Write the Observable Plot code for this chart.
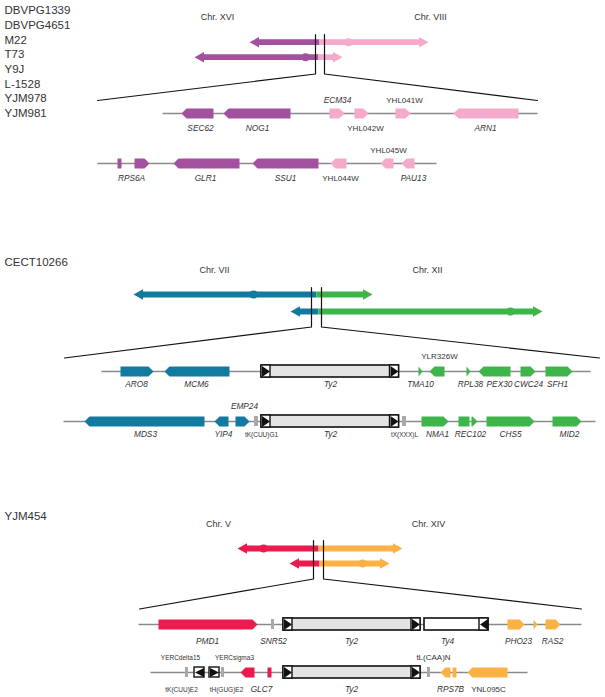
<!DOCTYPE html>
<html>
<head>
<meta charset="utf-8">
<script src="https://cdn.jsdelivr.net/npm/d3@7"></script>
<script src="https://cdn.jsdelivr.net/npm/@observablehq/plot@0.6"></script>
<style>
  html, body { margin: 0; padding: 0; background: #fff; }
  #chart svg { display: block; }
</style>
</head>
<body>
<div id="chart"></div>
<script>
// ---------------- DATA ----------------
const strainGroups = [
  ["DBVPG1339", "DBVPG4651", "M22", "T73", "Y9J", "L-1528", "YJM978", "YJM981"],
  ["CECT10266"],
  ["YJM454"]
];
const chromPairs = [
  {left: "Chr. XVI", right: "Chr. VIII", lx: 217, rx: 430},
  {left: "Chr. VII", right: "Chr. XII", lx: 214, rx: 427},
  {left: "Chr. V", right: "Chr. XIV", lx: 218, rx: 428}
];
const palettes = [
  ["#a3509f", "#f5a9cb"],
  ["#127a9e", "#3db54a"],
  ["#ec1a4f", "#fbb144"]
];
// overview translocation arrows: section, lane, left tip, junction, right tip, dot
const overview = [
  {section: 0, lane: 0, left: 249, junction: 319, right: 428, dot: 348},
  {section: 0, lane: 1, left: 194, junction: 318, right: 342, dot: 305},
  {section: 1, lane: 0, left: 133, junction: 316, right: 372, dot: 253},
  {section: 1, lane: 1, left: 290, junction: 318, right: 542, dot: 510},
  {section: 2, lane: 0, left: 237, junction: 318, right: 402, dot: 263},
  {section: 2, lane: 1, left: 289, junction: 319, right: 389, dot: 362}
];
// breakpoint markers and zoom window
const breakpoints = [
  {section: 0, a: 315, b: 324, from: 97, to: 537},
  {section: 1, a: 311, b: 321, from: 64, to: 599},
  {section: 2, a: 313, b: 323, from: 139, to: 581}
];
// chromosome backbones of the zoomed region
const tracks = [
  {section: 0, row: 0, from: 162, to: 537},
  {section: 0, row: 1, from: 97, to: 436},
  {section: 1, row: 0, from: 101, to: 590},
  {section: 1, row: 1, from: 63, to: 595},
  {section: 2, row: 0, from: 138, to: 581},
  {section: 2, row: 1, from: 150, to: 527}
];
// genes: [name, row, start, end, shape (L/R/N), chromosome side (0 left / 1 right)]
const genesA = [
  ["SEC62", 0, 181, 213, "L", 0], ["NOG1", 0, 223, 290, "L", 0],
  ["ECM34", 0, 329, 344, "R", 1], ["YHL042W", 0, 354, 368, "R", 1],
  ["YHL041W", 0, 395, 410, "R", 1], ["ARN1", 0, 453, 518, "L", 1],
  ["RPS6A-1", 1, 117, 121, "N", 0], ["RPS6A-2", 1, 134, 149, "R", 0],
  ["GLR1", 1, 173, 239, "L", 0], ["SSU1", 1, 252, 318, "L", 0],
  ["YHL044W", 1, 330, 346, "L", 1], ["YHL045W", 1, 380, 393, "L", 1],
  ["PAU13", 1, 401, 414, "L", 1]
];
const genesB = [
  ["ARO8", 0, 120, 153, "R", 0], ["MCM6", 0, 164, 229, "L", 0],
  ["TMA10", 0, 418, 422, "R", 1], ["YLR326W", 0, 429, 444, "L", 1],
  ["RPL38", 0, 466, 470, "R", 1], ["PEX30", 0, 478, 510, "L", 1],
  ["CWC24", 0, 520, 535, "R", 1], ["SFH1", 0, 545, 572, "R", 1],
  ["MDS3", 1, 84, 204, "L", 0], ["YIP4", 1, 214, 228, "L", 0],
  ["EMP24", 1, 235, 249, "R", 0], ["NMA1", 1, 421, 448, "R", 1],
  ["REC102", 1, 458, 469, "N", 1], ["REC102b", 1, 471, 477, "R", 1],
  ["CHS5", 1, 486, 534, "R", 1], ["MID2", 1, 552, 581, "R", 1]
];
const genesC = [
  ["PMD1", 0, 158, 257, "R", 0], ["PHO23", 0, 507, 524, "R", 1],
  ["orf", 0, 533, 537, "R", 1], ["RAS2", 0, 545, 560, "R", 1],
  ["GLC7", 1, 240, 254, "L", 0], ["GLC7b", 1, 267, 271, "N", 0],
  ["RPS7B", 1, 440, 450, "L", 1], ["RPS7Bb", 1, 452, 456, "N", 1],
  ["YNL095C", 1, 467, 507, "L", 1]
];
// tRNA / snoRNA ticks: [section, row, start, end]
const smallRNAs = [
  [1, 1, 254, 258], [1, 1, 402, 406],
  [2, 0, 271, 274], [2, 1, 185, 188], [2, 1, 221, 224], [2, 1, 427, 430]
];
// transposons: [section, row, start, end, type]
const transposons = [
  [1, 0, 261, 398.5, "Ty2"], [1, 1, 261, 398.5, "Ty2"],
  [2, 0, 283, 420, "Ty2"], [2, 0, 424, 488, "Ty4"], [2, 1, 283, 420, "Ty2"]
];
// solo LTRs: [section, row, start, end, direction]
const soloLTRs = [[2, 1, 194, 204, "L"], [2, 1, 209, 219, "R"]];
// labels: [section, row, text, x, position (b below / a above), style (i italic / n normal / s small)]
const labels = [
  [0, 0, "SEC62", 200, "b", "i"], [0, 0, "NOG1", 257, "b", "i"], [0, 0, "ECM34", 337, "a", "i"],
  [0, 0, "YHL042W", 365, "b", "n"], [0, 0, "YHL041W", 404, "a", "n"], [0, 0, "ARN1", 485, "b", "i"],
  [0, 1, "RPS6A", 131, "b", "i"], [0, 1, "GLR1", 205, "b", "i"], [0, 1, "SSU1", 285, "b", "i"],
  [0, 1, "YHL044W", 340, "b", "n"], [0, 1, "YHL045W", 388, "a", "n"], [0, 1, "PAU13", 413, "b", "i"],
  [1, 0, "ARO8", 136, "b", "i"], [1, 0, "MCM6", 196, "b", "i"], [1, 0, "Ty2", 330, "b", "i"],
  [1, 0, "TMA10", 420, "b", "i"], [1, 0, "YLR326W", 439, "a", "n"], [1, 0, "RPL38", 470, "b", "i"],
  [1, 0, "PEX30", 499, "b", "i"], [1, 0, "CWC24", 528, "b", "i"], [1, 0, "SFH1", 557, "b", "i"],
  [1, 1, "MDS3", 145, "b", "i"], [1, 1, "YIP4", 223, "b", "i"], [1, 1, "EMP24", 244, "a", "i"],
  [1, 1, "tK(CUU)G1", 261, "b", "s"], [1, 1, "Ty2", 330, "b", "i"], [1, 1, "tX(XXX)L", 404, "b", "s"],
  [1, 1, "NMA1", 437, "b", "i"], [1, 1, "REC102", 470, "b", "i"], [1, 1, "CHS5", 510, "b", "i"],
  [1, 1, "MID2", 569, "b", "i"],
  [2, 0, "PMD1", 207, "b", "i"], [2, 0, "SNR52", 273, "b", "i"], [2, 0, "Ty2", 351, "b", "i"],
  [2, 0, "Ty4", 447, "b", "i"], [2, 0, "PHO23", 518, "b", "i"], [2, 0, "RAS2", 552, "b", "i"],
  [2, 1, "YERCdelta15", 180, "a", "s"], [2, 1, "YERCsigma3", 234, "a", "s"], [2, 1, "tL(CAA)N", 433, "a", "n"],
  [2, 1, "tK(CUU)E2", 181, "b", "s"], [2, 1, "tH(GUG)E2", 226, "b", "s"], [2, 1, "GLC7", 261, "b", "i"],
  [2, 1, "Ty2", 351, "b", "i"], [2, 1, "RPS7B", 450, "b", "i"], [2, 1, "YNL095C", 488, "b", "n"]
];

// ---------------- LAYOUT ----------------
const layout = [
  {strainY: 10, chromY: 17, lanes: [41.7, 56.7], bpTop: 34, bpBottom: 73.5, zoomY: 100, rows: [113, 163], below: 15, above: -13},
  {strainY: 262, chromY: 270, lanes: [294, 311], bpTop: 287, bpBottom: 326.5, zoomY: 357.5, rows: [371, 421], below: 13, above: -15},
  {strainY: 516, chromY: 524, lanes: [548, 563], bpTop: 540, bpBottom: 578.5, zoomY: 608.5, rows: [624, 672], below: 17, above: -15}
];
const STRAIN_STEP = 14.7;
const GENE_H = 10, TIP = 5, TY_H = 12, LTR_W = 9;
const TEXT = "#333333";

const polys = [];
let pid = 0;
function addPoly(points, fill) {
  const id = pid++;
  for (const [x, y] of points) polys.push({id, x, y, fill});
}
function genePoly(x0, x1, y, h, dir) {
  const t = Math.min(TIP, x1 - x0);
  if (dir === "R") return [[x0, y - h / 2], [x1 - t, y - h / 2], [x1, y], [x1 - t, y + h / 2], [x0, y + h / 2]];
  if (dir === "L") return [[x1, y - h / 2], [x0 + t, y - h / 2], [x0, y], [x0 + t, y + h / 2], [x1, y + h / 2]];
  return [[x0, y - h / 2], [x1, y - h / 2], [x1, y + h / 2], [x0, y + h / 2]];
}

// overview arrows
const SH = 2.9, HH = 5.2, HL = 9.5;
const dots = [];
for (const o of overview) {
  const y = layout[o.section].lanes[o.lane];
  const [cl, cr] = palettes[o.section];
  addPoly([[o.junction, y - SH], [o.left + HL, y - SH], [o.left + HL, y - HH], [o.left, y],
           [o.left + HL, y + HH], [o.left + HL, y + SH], [o.junction, y + SH]], cl);
  addPoly([[o.junction, y - SH], [o.right - HL, y - SH], [o.right - HL, y - HH], [o.right, y],
           [o.right - HL, y + HH], [o.right - HL, y + SH], [o.junction, y + SH]], cr);
  dots.push({x: o.dot, y, fill: o.dot < o.junction ? cl : cr});
}

// genes
[genesA, genesB, genesC].forEach((list, s) => {
  for (const [name, row, a, b, dir, side] of list) {
    addPoly(genePoly(a, b, layout[s].rows[row], GENE_H, dir), palettes[s][side]);
  }
});
const rnaRects = smallRNAs.map(([s, row, a, b]) => ({x1: a, x2: b, y1: layout[s].rows[row] - 5, y2: layout[s].rows[row] + 5}));
const tyRects = transposons.map(([s, row, a, b, type]) => ({x1: a, x2: b, y1: layout[s].rows[row] - TY_H / 2, y2: layout[s].rows[row] + TY_H / 2, fill: type === "Ty2" ? "#e4e4e4" : "#ffffff"}));

// LTR boxes with triangles
const ltrBoxes = [];
const ltrTris = [];
function addLTR(x0, x1, y, h, dir) {
  ltrBoxes.push({x1: x0, x2: x1, y1: y - h / 2, y2: y + h / 2});
  const tri = dir === "R"
    ? [[x0 + 0.5, y - h / 2 + 0.5], [x1 - 0.5, y], [x0 + 0.5, y + h / 2 - 0.5]]
    : [[x1 - 0.5, y - h / 2 + 0.5], [x0 + 0.5, y], [x1 - 0.5, y + h / 2 - 0.5]];
  ltrTris.push(...tri.map(([x, yy]) => ({id: ltrBoxes.length, x, y: yy})));
}
for (const [s, row, a, b, type] of transposons) {
  const y = layout[s].rows[row];
  if (type === "Ty2") { addLTR(a, a + LTR_W, y, TY_H, "R"); addLTR(b - LTR_W, b, y, TY_H, "R"); }
  else { addLTR(b - LTR_W, b, y, TY_H, "L"); }
}
for (const [s, row, a, b, dir] of soloLTRs) addLTR(a, b, layout[s].rows[row], 10, dir);

// backbones
const backbones = tracks.map(t => ({x1: t.from, x2: t.to, y: layout[t.section].rows[t.row]}));

// breakpoint + zoom lines
const zoomLines = [];
for (const bp of breakpoints) {
  const L = layout[bp.section];
  zoomLines.push(
    {id: bp.section * 2, x: bp.a, y: L.bpTop}, {id: bp.section * 2, x: bp.a, y: L.bpBottom}, {id: bp.section * 2, x: bp.from, y: L.zoomY},
    {id: bp.section * 2 + 1, x: bp.b, y: L.bpTop}, {id: bp.section * 2 + 1, x: bp.b, y: L.bpBottom}, {id: bp.section * 2 + 1, x: bp.to, y: L.zoomY}
  );
}

// texts
const strainText = strainGroups.flatMap((g, s) => g.map((name, i) => ({name, x: 4, y: layout[s].strainY + i * STRAIN_STEP})));
const chromText = chromPairs.flatMap((c, s) => [
  {text: c.left, x: c.lx, y: layout[s].chromY}, {text: c.right, x: c.rx, y: layout[s].chromY}
]);
const labelRows = labels.map(([s, row, text, x, pos, style]) => ({
  text, x, style,
  y: layout[s].rows[row] + (pos === "b" ? layout[s].below : layout[s].above)
}));

const plot = Plot.plot({
  width: 605, height: 697, margin: 0,
  x: {domain: [0, 605], range: [0, 605], axis: null},
  y: {domain: [0, 697], range: [0, 697], axis: null},
  color: {type: "identity"},
  style: {fontFamily: "'Liberation Sans', Arial, Helvetica, sans-serif", background: "#fff"},
  marks: [
    Plot.link(backbones, {x1: "x1", x2: "x2", y1: "y", y2: "y", stroke: "#8a8a8a", strokeWidth: 1.5}),
    Plot.line(polys, {x: "x", y: "y", z: "id", fill: "fill", stroke: "none", curve: "linear"}),
    Plot.rect(rnaRects, {x1: "x1", x2: "x2", y1: "y1", y2: "y2", fill: "#a9a9a9"}),
    Plot.rect(tyRects, {x1: "x1", x2: "x2", y1: "y1", y2: "y2", fill: "fill", stroke: "#111", strokeWidth: 1.6}),
    Plot.rect(ltrBoxes, {x1: "x1", x2: "x2", y1: "y1", y2: "y2", fill: "#fff", stroke: "#111", strokeWidth: 1.4}),
    Plot.line(ltrTris, {x: "x", y: "y", z: "id", fill: "#111", stroke: "none"}),
    Plot.dot(dots, {x: "x", y: "y", fill: "fill", r: 4, stroke: "none"}),
    Plot.line(zoomLines, {x: "x", y: "y", z: "id", stroke: "#111", strokeWidth: 1.2}),
    Plot.text(strainText, {x: "x", y: "y", text: "name", textAnchor: "start", fontSize: 11.5, fill: TEXT}),
    Plot.text(chromText, {x: "x", y: "y", text: "text", fontSize: 9, fill: TEXT}),
    Plot.text(labelRows.filter(d => d.style === "i"), {x: "x", y: "y", text: "text", fontSize: 8.3, fontStyle: "italic", fill: TEXT}),
    Plot.text(labelRows.filter(d => d.style === "n"), {x: "x", y: "y", text: "text", fontSize: 8, fill: TEXT}),
    Plot.text(labelRows.filter(d => d.style === "s"), {x: "x", y: "y", text: "text", fontSize: 6.5, fill: TEXT})
  ]
});
document.getElementById("chart").appendChild(plot);
</script>
</body>
</html>
